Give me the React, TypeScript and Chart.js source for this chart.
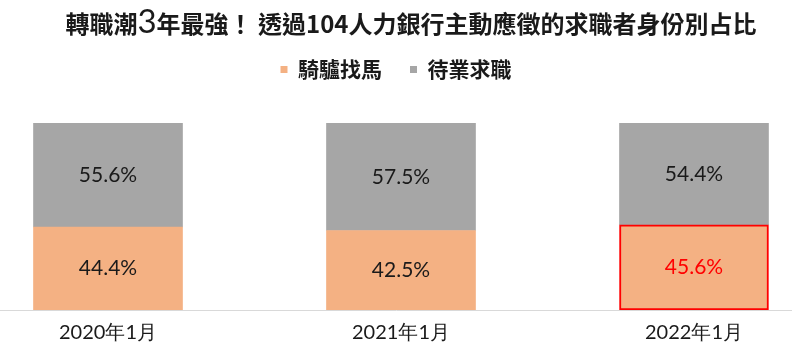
import { useEffect, useRef } from "react";
import { Chart, registerables } from "chart.js";

Chart.register(...registerables);

const categories = ["2020年1月", "2021年1月", "2022年1月"];
const seriesNames = ["騎驢找馬", "待業求職"];
const ridingValues = [44.4, 42.5, 45.6];
const jobless = [55.6, 57.5, 54.4];
const titleParts = ["轉職潮", "3", "年最強！ 透過104人力銀行主動應徵的求職者身份別占比"];
const highlightIndex = 2;

const ORANGE = "#F4B183";
const GRAY = "#A6A6A6";
const CJK = "'Noto Sans CJK TC', 'Noto Sans', sans-serif";
const NUM = "Lato, 'Noto Sans', sans-serif";

export default function App() {
  const ref = useRef<HTMLCanvasElement>(null);
  useEffect(() => {
    document.body.style.margin = "0";
    const ctx = ref.current!;
    const titlePlugin = {
      id: "mixTitle",
      afterDraw(chart: any) {
        const c = chart.ctx;
        c.save();
        c.textBaseline = "alphabetic";
        c.fillStyle = "#1a1a1a";
        const fonts = [`bold 24px ${CJK}`, `33px ${NUM}`, `bold 24px ${CJK}`];
        let total = 0;
        const widths = titleParts.map((t, i) => {
          c.font = fonts[i];
          const w = c.measureText(t).width;
          total += w;
          return w;
        });
        let x = 411 - total / 2;
        titleParts.forEach((t, i) => {
          c.font = fonts[i];
          c.fillText(t, x, 33);
          x += widths[i];
        });
        c.restore();
      },
    };
    const legendGap = {
      id: "legendGap",
      beforeInit(chart: any) {
        const lg = chart.legend;
        if (!lg) return;
        const orig = lg.fit;
        lg.fit = function () {
          orig.call(lg);
          lg.height += 33;
        };
      },
    };
    const labelPlugin = {
      id: "valueLabels",
      afterDatasetsDraw(chart: any) {
        const c = chart.ctx;
        c.save();
        c.textAlign = "center";
        c.textBaseline = "middle";
        c.font = `21px ${NUM}`;
        chart.data.datasets.forEach((ds: any, di: number) => {
          const meta = chart.getDatasetMeta(di);
          meta.data.forEach((el: any, i: number) => {
            const v = ds.data[i].y;
            c.fillStyle = di === 0 && i === highlightIndex ? "#FF0000" : "#1a1a1a";
            c.fillText(v.toFixed(1) + "%", el.x, (el.y + el.base) / 2);
          });
        });
        c.restore();
      },
    };
    const chart = new Chart(ctx, {
      type: "bar",
      data: {
        datasets: [
          {
            label: seriesNames[0],
            data: ridingValues.map((v, i) => ({ x: i, y: v })),
            backgroundColor: ORANGE,
            borderColor: ridingValues.map((_, i) => (i === highlightIndex ? "#FF0000" : ORANGE)),
            borderWidth: ridingValues.map((_, i) => (i === highlightIndex ? 2 : 0)),
            borderSkipped: false,
            barThickness: 149,
          },
          {
            label: seriesNames[1],
            data: jobless.map((v, i) => ({ x: i, y: v })),
            backgroundColor: GRAY,
            borderWidth: 0,
            barThickness: 149,
          },
        ],
      },
      options: {
        animation: false,
        responsive: false,
        maintainAspectRatio: false,
        layout: { padding: { top: 31, bottom: 0, left: 0, right: 0 } },
        plugins: {
          legend: {
            position: "top",
            labels: {
              boxWidth: 7,
              boxHeight: 7,
              padding: 28,
              color: "#1a1a1a",
              font: { family: CJK, size: 21, weight: "bold" },
            },
          },
          tooltip: { enabled: false },
          title: { display: false },
        },
        scales: {
          x: {
            type: "linear",
            stacked: true,
            offset: false,
            min: -0.3686,
            max: 2.3345,
            afterBuildTicks: (scale: any) => {
              scale.ticks = categories.map((_, i) => ({ value: i }));
            },
            ticks: {
              callback: (v: any) => categories[v as number] ?? "",
              color: "#1a1a1a",
              padding: 11,
              maxRotation: 0,
              autoSkip: false,
              font: { family: NUM, size: 20 },
            },
            grid: { display: false, drawTicks: false },
            border: { display: true, color: "#D9D9D9", width: 1 },
          },
          y: {
            stacked: true,
            display: false,
            min: 0,
            max: 100,
          },
        },
      },
      plugins: [titlePlugin, labelPlugin, legendGap],
    });
    return () => chart.destroy();
  }, []);
  return (
    <div style={{ width: 792, height: 356 }}>
      <canvas ref={ref} width={792} height={356} style={{ display: "block" }} />
    </div>
  );
}
